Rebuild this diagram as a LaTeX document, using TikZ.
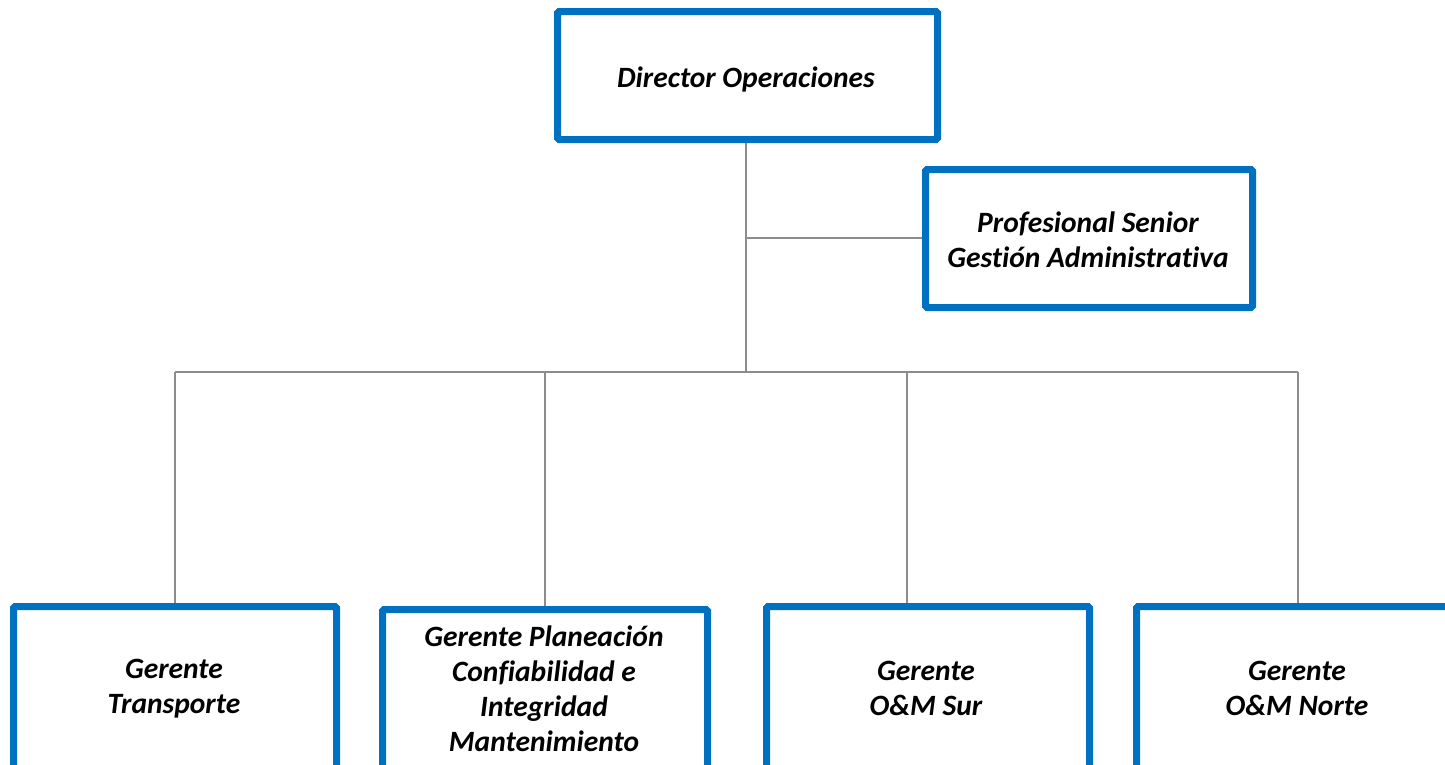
\documentclass[tikz,border=0pt]{standalone}
\usepackage{fontspec}
\setmainfont[Ligatures=NoCommon]{Carlito}
\definecolor{boxblue}{HTML}{0070C0}
\definecolor{linegray}{HTML}{8C8C8C}
\begin{document}
\begin{tikzpicture}[x=1pt,y=-1pt,
  box/.style={draw=boxblue,line width=7pt,fill=white,rounded corners=1.5pt,inner sep=0pt,anchor=north west},
  lbl/.style={align=center,font=\fontsize{29.5}{35}\selectfont\bfseries\itshape,text=black,inner sep=0pt},
  conn/.style={draw=linegray,line width=2pt}]
\clip (0,0) rectangle (1445,764);
\useasboundingbox (0,0) rectangle (1445,764);
% boxes
\node[box,minimum width=380pt,minimum height=128pt] (dir) at (554,8) {};
\node[box,minimum width=327pt,minimum height=138pt] (prof) at (922,166) {};
\node[box,minimum width=323pt,minimum height=200pt] (tr) at (10,603) {};
\node[box,minimum width=325pt,minimum height=200pt] (pl) at (379,606) {};
\node[box,minimum width=323pt,minimum height=200pt] (sur) at (763,603) {};
\node[box,minimum width=323pt,minimum height=200pt] (nor) at (1133,603) {};
% connectors
\coordinate (bus) at (746,372);
\coordinate (tap) at (746,238);
\coordinate (surtop) at (907,603);
\coordinate (nortop) at (1298,603);
\draw[conn] (dir.south -| bus) -- (bus);
\draw[conn] (tap) -- (tap -| prof.west);
\draw[conn] (bus -| tr.north) -- (bus -| nortop);
\draw[conn] (bus -| tr.north) -- (tr.north);
\draw[conn] (bus -| pl.north) -- (pl.north);
\draw[conn] (bus -| surtop) -- (surtop);
\draw[conn] (bus -| nortop) -- (nortop);
% labels
\node[lbl] (tdir) at (746,79) {Director Operaciones};
\node[lbl] (tprof) at (1088,240) {Profesional Senior\\Gestión Administrativa};
\node[lbl] (ttr) at (174,688.5) {Gerente\\Transporte};
\node[lbl] (tpl) at (544,689) {Gerente Planeación\\Confiabilidad e\\Integridad\\Mantenimiento};
\node[lbl] (tsur) at (926,688.5) {Gerente\\O\&M Sur};
\node[lbl] (tnor) at (1297,688.5) {Gerente\\O\&M Norte};
\end{tikzpicture}
\end{document}
